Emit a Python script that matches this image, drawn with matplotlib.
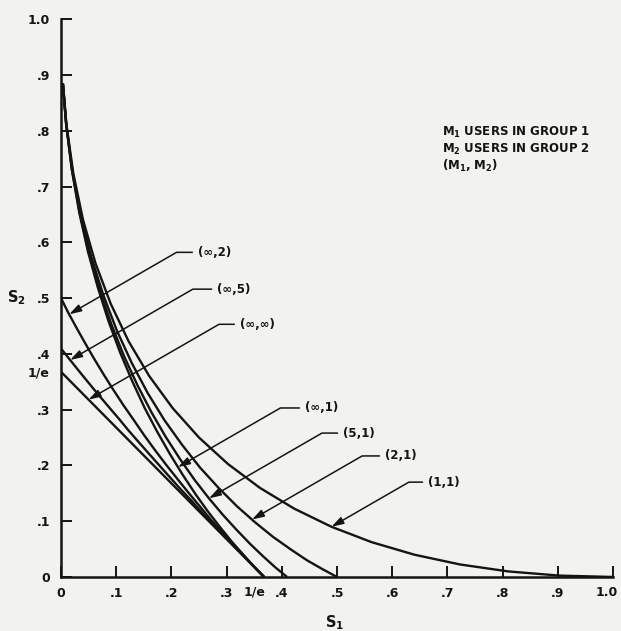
import matplotlib
matplotlib.use('Agg')
import matplotlib.pyplot as plt

# throughput boundaries (S1, S2), one pair of lists per (M1, M2)
s1_1_1 = [0.0036, 0.01, 0.0225, 0.04, 0.0625, 0.09, 0.1225, 0.16, 0.2025, 0.25,
          0.3025, 0.36, 0.4225, 0.49, 0.5625, 0.64, 0.7225, 0.81, 0.9025, 1.0]
s2_1_1 = [0.884, 0.81, 0.7225, 0.64, 0.5625, 0.49, 0.4225, 0.36, 0.3025, 0.25,
          0.2025, 0.16, 0.1225, 0.09, 0.0625, 0.04, 0.0225, 0.01, 0.0025, 0.0]

s1_2_1 = [0.0035, 0.0095, 0.0208, 0.036, 0.0547, 0.0765, 0.1011, 0.128, 0.1569, 0.1875,
          0.2193, 0.252, 0.2852, 0.3185, 0.3516, 0.384, 0.4154, 0.4455, 0.4738, 0.5]
s2_2_1 = [0.884, 0.812, 0.727, 0.648, 0.574, 0.506, 0.442, 0.384, 0.330, 0.281,
          0.237, 0.196, 0.160, 0.127, 0.098, 0.072, 0.050, 0.030, 0.014, 0.0]

s1_5_1 = [0.0034, 0.0092, 0.0199, 0.034, 0.0509, 0.0703, 0.0916, 0.1146, 0.1389, 0.164,
          0.1898, 0.2159, 0.2421, 0.268, 0.2936, 0.3186, 0.3429, 0.3662, 0.3885, 0.4096]
s2_5_1 = [0.885, 0.814, 0.730, 0.652, 0.580, 0.514, 0.452, 0.395, 0.343, 0.295,
          0.251, 0.211, 0.174, 0.141, 0.111, 0.084, 0.059, 0.037, 0.017, 0.0]

s1_inf_1 = [0.0034, 0.0091, 0.0194, 0.0328, 0.0487, 0.0667, 0.0863, 0.1073, 0.1291, 0.1516,
            0.1745, 0.1976, 0.2206, 0.2433, 0.2657, 0.2876, 0.3088, 0.3293, 0.349, 0.3679]
s2_inf_1 = [0.885, 0.814, 0.732, 0.655, 0.584, 0.519, 0.458, 0.402, 0.351, 0.303,
            0.260, 0.220, 0.183, 0.149, 0.118, 0.090, 0.064, 0.041, 0.019, 0.0]

s1_inf_2 = [0.0, 0.0131, 0.0274, 0.0427, 0.059, 0.0761, 0.0939, 0.1124, 0.1314, 0.1508, 0.1706,
            0.1906, 0.2107, 0.231, 0.2512, 0.2712, 0.2912, 0.3109, 0.3302, 0.3493, 0.3679]
s2_inf_2 = [0.5, 0.474, 0.448, 0.421, 0.393, 0.365, 0.337, 0.309, 0.282, 0.254, 0.227,
            0.201, 0.176, 0.151, 0.127, 0.103, 0.081, 0.059, 0.039, 0.019, 0.0]

s1_inf_5 = [0.0, 0.0166, 0.0336, 0.0509, 0.0685, 0.0864, 0.1046, 0.1229, 0.1415, 0.1602, 0.1791,
            0.198, 0.217, 0.2361, 0.2551, 0.2741, 0.2931, 0.312, 0.3308, 0.3494, 0.3679]
s2_inf_5 = [0.4096, 0.389, 0.368, 0.347, 0.326, 0.305, 0.284, 0.262, 0.241, 0.220, 0.199,
            0.178, 0.157, 0.137, 0.116, 0.096, 0.076, 0.057, 0.038, 0.019, 0.0]

s1_inf_inf = [0.0, 0.3679]
s2_inf_inf = [0.3679, 0.0]

curves = [(s1_1_1, s2_1_1), (s1_2_1, s2_2_1), (s1_5_1, s2_5_1), (s1_inf_1, s2_inf_1),
          (s1_inf_2, s2_inf_2), (s1_inf_5, s2_inf_5), (s1_inf_inf, s2_inf_inf)]

labels = ['(∞,2)', '(∞,5)', '(∞,∞)', '(∞,1)', '(5,1)', '(2,1)', '(1,1)']
label_xy = [(0.015, 0.471), (0.0166, 0.389), (0.05, 0.318), (0.212, 0.197),
            (0.268, 0.141), (0.346, 0.103), (0.49, 0.09)]
label_text = [(0.248, 0.582), (0.283, 0.516), (0.324, 0.453), (0.442, 0.303),
              (0.511, 0.258), (0.587, 0.217), (0.665, 0.170)]

key_lines = ['M$_1$ USERS IN GROUP 1', 'M$_2$ USERS IN GROUP 2', '(M$_1$, M$_2$)']

plt.rcParams['font.family'] = ['DejaVu Sans']
plt.rcParams['font.weight'] = 'bold'
plt.rcParams['mathtext.fontset'] = 'dejavusans'
plt.rcParams['mathtext.default'] = 'bf'

ink = '#141414'
paper = '#f2f2ef'

fig = plt.figure(figsize=(6.21, 6.31), dpi=100, facecolor=paper)
ax = fig.add_axes([0.0982, 0.0856, 0.889, 0.884], facecolor=paper)

for s1, s2 in curves:
    ax.plot(s1, s2, color=ink, lw=1.7, solid_capstyle='butt')

for lab, xy, xyt in zip(labels, label_xy, label_text):
    ax.annotate(lab, xy=xy, xytext=xyt, ha='left', va='center', fontsize=8.5,
                fontweight='bold', color=ink,
                arrowprops=dict(arrowstyle='-|>,head_length=0.45,head_width=0.14',
                                mutation_scale=16, color=ink, lw=1.1,
                                connectionstyle='angle,angleA=0,angleB=30,rad=0',
                                shrinkA=2, shrinkB=0))

for i, line in enumerate(key_lines):
    ax.text(0.69, 0.797 - i * 0.0305, line, ha='left', va='center', fontsize=8.5,
            fontweight='bold', color=ink)

ax.set_xlim(0, 1)
ax.set_ylim(0, 1)
for side in ['top', 'right']:
    ax.spines[side].set_visible(False)
for side in ['left', 'bottom']:
    ax.spines[side].set_linewidth(1.8)
    ax.spines[side].set_color(ink)

yt = [0, 0.1, 0.2, 0.3, 0.3679, 0.4, 0.5, 0.6, 0.7, 0.8, 0.9, 1.0]
ytl = ['0', '.1', '.2', '.3', '1/e', '.4', '.5', '.6', '.7', '.8', '.9', '1.0']
ax.set_yticks(yt, ytl)
ax.yaxis.get_major_ticks()[4].tick1line.set_visible(False)

xt = [0, 0.1, 0.2, 0.3, 0.4, 0.5, 0.6, 0.7, 0.8, 0.9, 1.0]
xtl = ['0', '.1', '.2', '.3', '.4', '.5', '.6', '.7', '.8', '.9', '']
ax.set_xticks(xt, xtl)
ax.text(0.35, -0.0155, '1/e', ha='center', va='top', fontsize=9, fontweight='bold',
        color=ink, clip_on=False)
ax.text(0.988, -0.0155, '1.0', ha='center', va='top', fontsize=9, fontweight='bold',
        color=ink, clip_on=False)

ax.tick_params(axis='both', direction='in', length=8, width=1.4, color=ink,
               labelsize=9, labelcolor=ink)
ax.tick_params(axis='y', pad=8)
ax.tick_params(axis='x', pad=7)

ax.text(-0.08, 0.5, 'S$_2$', ha='center', va='center', fontsize=10.5, fontweight='bold',
        color=ink, clip_on=False)
ax.text(0.496, -0.081, 'S$_1$', ha='center', va='center', fontsize=10.5, fontweight='bold',
        color=ink, clip_on=False)

plt.savefig('out.png', dpi=100, facecolor=paper)
